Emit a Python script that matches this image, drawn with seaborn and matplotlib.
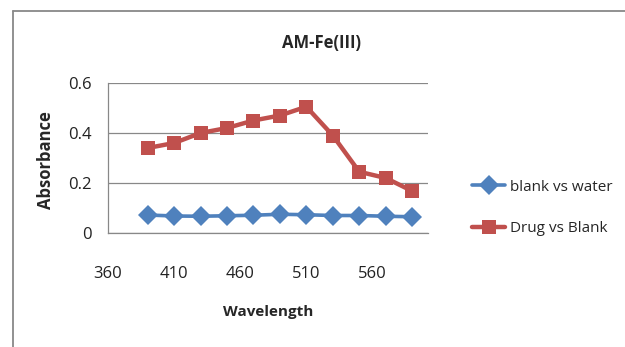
import matplotlib
matplotlib.use("Agg")
import matplotlib.pyplot as plt
import seaborn as sns
import pandas as pd
from matplotlib.lines import Line2D

wavelength = [390, 410, 430, 450, 470, 490, 510, 530, 550, 570, 590]
blank_vs_water = [0.072, 0.068, 0.067, 0.069, 0.071, 0.075, 0.073, 0.070, 0.070, 0.067, 0.065]
drug_vs_blank = [0.34, 0.36, 0.40, 0.42, 0.45, 0.47, 0.505, 0.39, 0.245, 0.22, 0.168]
series_names = ["blank vs water", "Drug vs Blank"]
x_ticks = [360, 410, 460, 510, 560]
y_ticks = [0, 0.2, 0.4, 0.6]
y_tick_labels = ["0", "0.2", "0.4", "0.6"]

df = pd.DataFrame({
    "Wavelength": wavelength * 2,
    "Absorbance": blank_vs_water + drug_vs_blank,
    "Series": [series_names[0]] * len(wavelength) + [series_names[1]] * len(wavelength),
})

sns.set_style("white")
plt.rcParams["font.family"] = ["Open Sans", "DejaVu Sans"]

fig = plt.figure(figsize=(6.25, 3.47), dpi=100)
ax = fig.add_axes([108 / 625, 1 - 233 / 347, 320 / 625, 150 / 347])

palette = {series_names[0]: "#4F81BD", series_names[1]: "#C0504D"}
sns.lineplot(data=df[df.Series == series_names[0]], x="Wavelength", y="Absorbance",
             color=palette[series_names[0]], marker="D", markersize=10.5,
             linewidth=2.6, markeredgewidth=0, ax=ax, label=series_names[0])
sns.lineplot(data=df[df.Series == series_names[1]], x="Wavelength", y="Absorbance",
             color=palette[series_names[1]], marker="s", markersize=10,
             linewidth=3.2, markeredgewidth=0, ax=ax, label=series_names[1])

ax.set_xlim(360, 602)
ax.set_ylim(0, 0.6)
ax.set_xticks(x_ticks)
ax.set_yticks(y_ticks)
ax.set_yticklabels(y_tick_labels)
ax.tick_params(axis="both", labelsize=12, length=0, colors="#222222")
ax.tick_params(axis="x", pad=24)
ax.tick_params(axis="y", pad=12)
ax.grid(axis="y", color="#888888", linewidth=0.9)
ax.grid(axis="x", visible=False)
for s in ["top", "right"]:
    ax.spines[s].set_visible(False)
for s in ["left", "bottom"]:
    ax.spines[s].set_color("#888888")
    ax.spines[s].set_linewidth(0.9)

ax.set_xlabel("Wavelength", fontsize=11, fontweight="bold")
ax.set_ylabel("Absorbance", fontsize=12, fontweight="bold")
ax.xaxis.set_label_coords((268 - 108) / 320, -(305 - 233) / 150)
ax.yaxis.set_label_coords(-(108 - 55) / 320, (233 - 160) / 150)
fig.text(322 / 625, 1 - 43 / 347, "AM-Fe(III)", fontsize=12, fontweight="bold",
         ha="center", va="center")

ax.legend(loc="center left", bbox_to_anchor=(458 / 625, 1 - 208 / 347),
          bbox_transform=fig.transFigure, frameon=False, fontsize=11,
          handlelength=2.2, labelspacing=1.75, handletextpad=0.3)

y_top = 1 - 11 / 347
x_left = 13 / 625
fig.add_artist(Line2D([x_left, 1.0], [y_top, y_top], transform=fig.transFigure,
                      color="#888888", linewidth=1.3))
fig.add_artist(Line2D([x_left, x_left], [0.0, y_top], transform=fig.transFigure,
                      color="#888888", linewidth=1.3))

fig.savefig("out.png", dpi=100)
